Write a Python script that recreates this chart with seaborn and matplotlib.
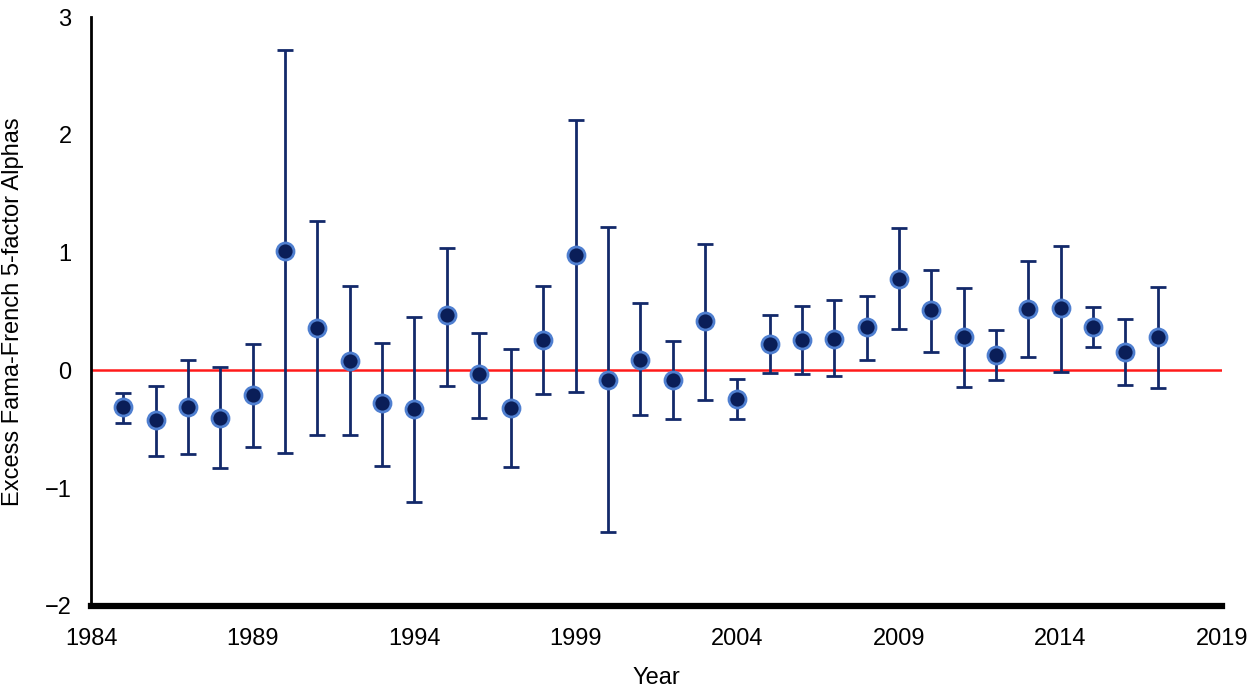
import numpy as np
import pandas as pd
import matplotlib
matplotlib.use("Agg")
import matplotlib.pyplot as plt
import seaborn as sns

# Data
years = list(range(1985, 2018))
alpha = [-0.31, -0.42, -0.31, -0.40, -0.21, 1.01, 0.36, 0.08, -0.28, -0.33,
         0.47, -0.03, -0.32, 0.26, 0.98, -0.08, 0.09, -0.08, 0.42, -0.24,
         0.22, 0.26, 0.27, 0.37, 0.78, 0.51, 0.28, 0.13, 0.52, 0.53,
         0.37, 0.16, 0.28]
upper = [-0.19, -0.13, 0.09, 0.03, 0.22, 2.72, 1.27, 0.72, 0.23, 0.45,
         1.04, 0.32, 0.18, 0.72, 2.13, 1.22, 0.57, 0.25, 1.07, -0.07,
         0.47, 0.55, 0.60, 0.63, 1.21, 0.85, 0.70, 0.34, 0.93, 1.06,
         0.54, 0.44, 0.71]
lower = [-0.45, -0.73, -0.71, -0.83, -0.65, -0.70, -0.55, -0.55, -0.81, -1.12,
         -0.13, -0.40, -0.82, -0.20, -0.18, -1.37, -0.38, -0.41, -0.25, -0.41,
         -0.02, -0.03, -0.05, 0.09, 0.35, 0.16, -0.14, -0.08, 0.11, -0.01,
         0.20, -0.12, -0.15]

df = pd.DataFrame({"Year": years, "Alpha": alpha, "Upper": upper, "Lower": lower})

sns.set_style("white")
plt.rcParams['font.family'] = ['Liberation Sans', 'DejaVu Sans']
plt.rcParams['text.color'] = 'black'
plt.rcParams['axes.labelcolor'] = 'black'
plt.rcParams['xtick.color'] = 'black'
plt.rcParams['ytick.color'] = 'black'

fig = plt.figure(figsize=(12.54, 6.92), dpi=100)
ax = fig.add_axes([0.0726, 0.1243, 0.902, 0.8511])

# zero line
ax.axhline(0, color='#ff1a1a', lw=1.8, zorder=1)

# error bars
ax.errorbar(df["Year"], df["Alpha"],
            yerr=[df["Alpha"] - df["Lower"], df["Upper"] - df["Alpha"]],
            fmt='none', ecolor='#13296a', elinewidth=2, capsize=6, capthick=2, zorder=2)

# points
sns.scatterplot(data=df, x="Year", y="Alpha", ax=ax, s=150, color='#0a1e58',
                edgecolor='#4f7fd0', linewidth=2, zorder=3)

ax.set_xlim(1984, 2019)
ax.set_ylim(-2, 3)
ax.set_xticks(range(1984, 2020, 5))
ax.set_yticks(range(-2, 4))
ax.tick_params(axis='both', labelsize=17, length=0)
ax.tick_params(axis='x', pad=16)
ax.tick_params(axis='y', pad=14)

ax.set_xlabel("Year", fontsize=17, va='center')
ax.set_ylabel("Excess Fama-French 5-factor Alphas", fontsize=17, va='center')
ax.xaxis.set_label_coords(0.5, -0.122)
ax.yaxis.set_label_coords(-0.069, 0.5)

for s in ['top', 'right']:
    ax.spines[s].set_visible(False)
ax.spines['left'].set_color('black')
ax.spines['left'].set_linewidth(2)
ax.spines['bottom'].set_color('black')
ax.spines['bottom'].set_linewidth(4.5)

fig.savefig("out.png", dpi=100)
